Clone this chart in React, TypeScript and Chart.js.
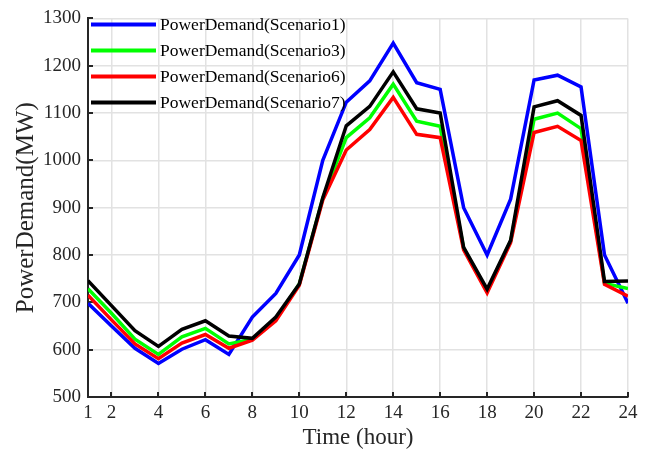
import React, { useEffect, useRef } from 'react';
import { Chart, registerables } from 'chart.js';

Chart.register(...registerables);

const hours = [1, 2, 3, 4, 5, 6, 7, 8, 9, 10, 11, 12, 13, 14, 15, 16, 17, 18, 19, 20, 21, 22, 23, 24];
const scenario1 = [698, 650, 603, 571, 601, 621, 590, 669, 719, 800, 1000, 1123, 1168, 1248, 1164, 1150, 900, 800, 918, 1170, 1180, 1155, 800, 698];
const scenario3 = [729, 677, 622, 590, 627, 645, 612, 622, 664, 739, 920, 1048, 1090, 1161, 1083, 1072, 814, 725, 829, 1087, 1100, 1067, 740, 729];
const scenario6 = [715, 663, 612, 581, 614, 632, 603, 620, 661, 736, 916, 1022, 1065, 1133, 1055, 1048, 811, 720, 826, 1059, 1072, 1042, 738, 713];
const scenario7 = [746, 693, 640, 607, 643, 661, 629, 624, 669, 739, 921, 1073, 1114, 1187, 1109, 1100, 816, 728, 831, 1113, 1126, 1095, 744, 745];
const seriesLabels = ['PowerDemand(Scenario1)', 'PowerDemand(Scenario3)', 'PowerDemand(Scenario6)', 'PowerDemand(Scenario7)'];
const seriesColors = ['#0000ff', '#00ff00', '#ff0000', '#000000'];
const seriesValues = [scenario1, scenario3, scenario6, scenario7];
const xTickValues = [1, 2, 4, 6, 8, 10, 12, 14, 16, 18, 20, 22, 24];
const yMin = 500;
const yMax = 1300;
const yStep = 100;
const xTitle = 'Time (hour)';
const yTitle = 'PowerDemand(MW)';

const SERIF = "'Liberation Serif', 'Times New Roman', serif";
const AXIS_COLOR = '#262626';

export default function App() {
  const ref = useRef<HTMLCanvasElement>(null);

  useEffect(() => {
    if (!ref.current) return;

    const inwardTicks = {
      id: 'inwardTicks',
      beforeDatasetsDraw(chart: any) {
        const { ctx, chartArea, scales } = chart;
        ctx.save();
        ctx.strokeStyle = AXIS_COLOR;
        ctx.lineWidth = 2;
        ctx.beginPath();
        xTickValues.forEach((v) => {
          const px = Math.round(scales.x.getPixelForValue(v));
          ctx.moveTo(px, chartArea.bottom);
          ctx.lineTo(px, chartArea.bottom - 5);
        });
        for (let v = yMin; v <= yMax; v += yStep) {
          const py = Math.round(scales.y.getPixelForValue(v));
          ctx.moveTo(chartArea.left, py);
          ctx.lineTo(chartArea.left + 5, py);
        }
        ctx.stroke();
        ctx.restore();
      },
    };

    const insideLegend = {
      id: 'insideLegend',
      afterDraw(chart: any) {
        const { ctx, chartArea } = chart;
        ctx.save();
        ctx.font = `17.5px ${SERIF}`;
        ctx.textBaseline = 'middle';
        ctx.textAlign = 'left';
        seriesLabels.forEach((label, i) => {
          const y = chartArea.top + 6 + i * 26;
          ctx.strokeStyle = seriesColors[i];
          ctx.lineWidth = 4;
          ctx.beginPath();
          ctx.moveTo(chartArea.left + 3, y);
          ctx.lineTo(chartArea.left + 68, y);
          ctx.stroke();
          ctx.fillStyle = '#000000';
          ctx.fillText(label, chartArea.left + 72, y + 1);
        });
        ctx.restore();
      },
    };

    const chart = new Chart(ref.current, {
      type: 'line',
      data: {
        datasets: seriesValues.map((vals, i) => ({
          label: seriesLabels[i],
          data: hours.map((h, j) => ({ x: h, y: vals[j] })),
          borderColor: seriesColors[i],
          backgroundColor: seriesColors[i],
          borderWidth: 3.5,
          pointRadius: 0,
          tension: 0,
          fill: false,
          order: seriesValues.length - 1 - i,
        })),
      },
      options: {
        animation: false,
        responsive: false,
        layout: { padding: { top: 17, right: 21, left: 0, bottom: 0 } },
        plugins: {
          legend: { display: false },
          tooltip: { enabled: false },
        },
        scales: {
          x: {
            type: 'linear',
            min: 1,
            max: 24,
            afterBuildTicks: (s: any) => {
              s.ticks = xTickValues.map((v) => ({ value: v }));
            },
            afterFit: (s: any) => {
              s.height = 53;
            },
            ticks: {
              autoSkip: false,
              maxRotation: 0,
              minRotation: 0,
              padding: 5,
              color: AXIS_COLOR,
              font: { family: SERIF, size: 19 },
              callback: (v: any) => String(v),
            },
            grid: { color: '#e2e2e2', lineWidth: 1.5, drawTicks: false },
            border: { color: AXIS_COLOR, width: 2 },
            title: {
              display: true,
              text: xTitle,
              color: AXIS_COLOR,
              font: { family: SERIF, size: 23, lineHeight: 1 },
              padding: { top: 0, bottom: 1 },
            },
          },
          y: {
            type: 'linear',
            min: yMin,
            max: yMax,
            afterFit: (s: any) => {
              s.width = 88;
            },
            ticks: {
              stepSize: yStep,
              padding: 7,
              color: AXIS_COLOR,
              font: { family: SERIF, size: 19 },
              callback: (v: any) => String(v),
            },
            grid: { color: '#e2e2e2', lineWidth: 1.5, drawTicks: false },
            border: { color: AXIS_COLOR, width: 2 },
            title: {
              display: true,
              text: yTitle,
              color: AXIS_COLOR,
              font: { family: SERIF, size: 25, lineHeight: 1 },
              padding: { top: 14, bottom: 0 },
            },
          },
        },
      },
      plugins: [inwardTicks, insideLegend],
    });

    return () => chart.destroy();
  }, []);

  return (
    <div style={{ position: 'fixed', left: 0, top: 0, width: 649, height: 450, background: '#ffffff' }}>
      <canvas ref={ref} width={649} height={450} style={{ display: 'block', width: 649, height: 450 }} />
    </div>
  );
}
